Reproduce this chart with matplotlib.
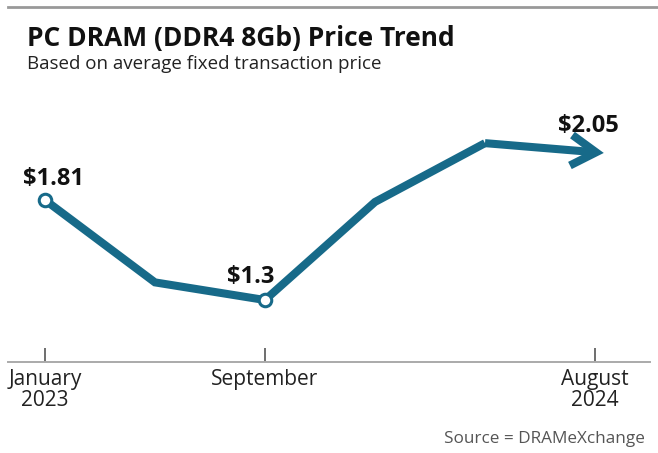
import matplotlib
matplotlib.use("Agg")
from matplotlib import pyplot as plt
from matplotlib.lines import Line2D

plt.rcParams['font.family'] = ['Open Sans', 'DejaVu Sans']

# data (6 evenly spaced readings, Jan 2023 -> Aug 2024)
x = [0, 1, 2, 3, 4, 5]
price = [1.81, 1.39, 1.30, 1.80, 2.10, 2.05]
labelled = {0: "$1.81", 2: "$1.3", 5: "$2.05"}
tick_pos = [0, 2, 5]
tick_labels = ["January\n2023", "September", "August\n2024"]

teal = "#176a89"

fig = plt.figure(figsize=(6.58, 4.53), dpi=100)
ax = fig.add_axes([8 / 658, 1 - 362 / 453, 642 / 658, 262 / 453])

# main line up to the second last point, last segment is the arrow
ax.plot(x[:-1], price[:-1], color=teal, lw=5.8, solid_joinstyle="miter",
        solid_capstyle="butt", zorder=2)
ax.annotate("", xy=(x[-1] + 0.08, price[-1]), xytext=(x[-2], price[-2]),
            arrowprops=dict(arrowstyle="->,head_length=0.9,head_width=0.55",
                            mutation_scale=20, color=teal, lw=5.8,
                            joinstyle="miter", capstyle="butt",
                            shrinkA=0, shrinkB=0),
            zorder=2)

# open markers on labelled points
mk = [i for i in labelled if i != 5]
ax.plot([x[i] for i in mk], [price[i] for i in mk], "o", ms=9,
        mfc="white", mec=teal, mew=2.2, zorder=3)

offsets = {0: (0.08, 0.077), 2: (-0.13, 0.087), 5: (-0.06, 0.107)}
for i, txt in labelled.items():
    dx, dy = offsets[i]
    ax.text(x[i] + dx, price[i] + dy, txt.replace("$", r"\$"),
            ha="center", va="baseline", fontsize=17, fontweight="bold",
            color="#111111")

ax.set_xlim(-0.336, 5.5)
ax.set_ylim(0.984, 2.32)

for s in ["top", "right", "left"]:
    ax.spines[s].set_visible(False)
ax.spines["bottom"].set_color("#aaaaaa")
ax.spines["bottom"].set_linewidth(1.4)
ax.set_yticks([])
ax.set_xticks(tick_pos)
ax.set_xticklabels(tick_labels, fontsize=15, color="#222222", linespacing=1.0)
ax.tick_params(axis="x", direction="in", length=10, width=1.2,
               color="#555555", pad=5)

# header rule and titles
fig.add_artist(Line2D([8 / 658, 1], [1 - 7 / 453] * 2, color="#999999", lw=2))
fig.text(27 / 658, 1 - 46 / 453, "PC DRAM (DDR4 8Gb) Price Trend",
         fontsize=19, fontweight="bold", color="#111111", va="baseline")
fig.text(27 / 658, 1 - 69 / 453, "Based on average fixed transaction price",
         fontsize=13.5, color="#222222", va="baseline")
fig.text(645 / 658, 1 - 443 / 453, "Source = DRAMeXchange",
         fontsize=12.3, color="#555555", ha="right", va="baseline")

plt.savefig("out.png", dpi=100)
